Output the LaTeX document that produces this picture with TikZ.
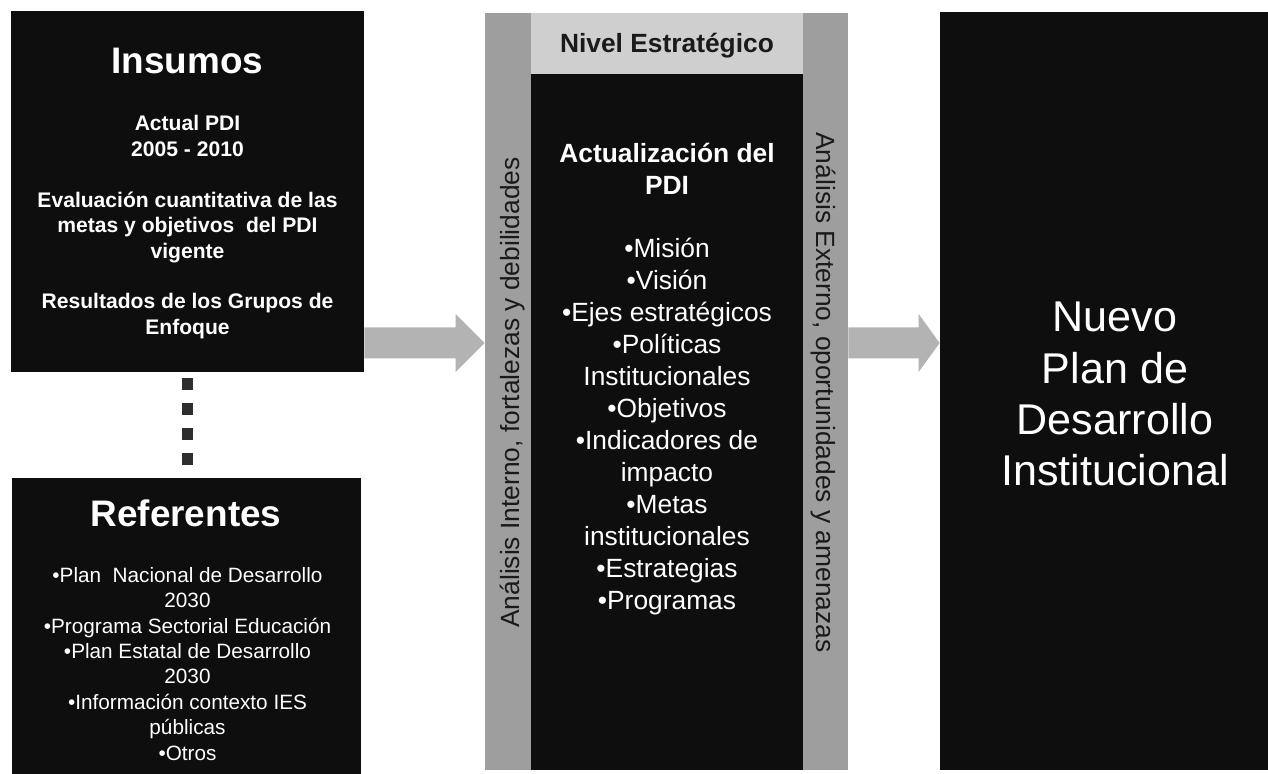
\documentclass[tikz,border=0pt]{standalone}
\usepackage{fontspec}
\setmainfont{Liberation Sans}
\usetikzlibrary{calc}
\definecolor{boxblack}{HTML}{0E0E0E}
\definecolor{stripgray}{HTML}{9E9E9E}
\definecolor{headgray}{HTML}{CFCFCF}
\definecolor{arrowgray}{HTML}{B3B3B3}
\definecolor{dotgray}{HTML}{2E2E2E}
\definecolor{sidedark}{HTML}{1A1A1A}
\tikzset{
  box/.style={draw=none, inner sep=0pt},
  blackbox/.style={box, fill=boxblack},
  blockarrow/.style={fill=arrowgray, to path={
    ($(\tikztostart)+(0,0.31)$) -- ($(\tikztotarget)+(-#1,0.31)$)
    -- ($(\tikztotarget)+(-#1,0.58)$) -- (\tikztotarget)
    -- ($(\tikztotarget)+(-#1,-0.58)$) -- ($(\tikztotarget)+(-#1,-0.31)$)
    -- ($(\tikztostart)+(0,-0.31)$) -- cycle}},
  dotline/.style={draw=dotgray, line width=0.22cm, dash pattern=on 0.24cm off 0.26cm, dash phase=0.38cm},
  titletext/.style={text=white, anchor=base, inner sep=0pt, font=\fontsize{21}{25}\selectfont\bfseries},
  smalltext/.style={text=white, anchor=north, inner sep=0pt, align=center},
  midtext/.style={anchor=north, inner sep=0pt, align=center, text=white},
  sidetext/.style={text=sidedark, anchor=base, inner sep=0pt, font=\fontsize{15}{18}\selectfont}
}

\begin{document}
\begin{tikzpicture}
\useasboundingbox (0,0) rectangle (25.36,15.48);
% left column
\node[blackbox, minimum width=7.06cm, minimum height=7.22cm] (insumos) at (3.75,11.65) {};
\node[blackbox, minimum width=6.98cm, minimum height=5.92cm] (referentes) at (3.73,2.96) {};
\node[titletext] (insumostitle) at (3.75,14.0) {Insumos};
\node[smalltext, font=\fontsize{12}{14.5}\selectfont\bfseries] (insumostext) at (3.75,13.18)
  {Actual PDI\\2005 - 2010\\[14.5pt]Evaluación cuantitativa de las\\metas y objetivos \ del PDI\\vigente\\[14.5pt]Resultados de los Grupos de\\Enfoque};
\node[titletext] (referentestitle) at (3.72,4.94) {Referentes};
\node[smalltext, font=\fontsize{11.8}{14.45}\selectfont] (referentestext) at (3.75,4.14)
  {•Plan \ Nacional de Desarrollo\\2030\\•Programa Sectorial Educación\\•Plan Estatal de Desarrollo\\2030\\•Información contexto IES\\públicas\\•Otros};
\draw[dotline] (insumos.south) -- (insumos.south |- referentes.north);
% middle column
\node[box, fill=stripgray, minimum width=7.26cm, minimum height=15.14cm] (panel) at (13.33,7.65) {};
\node[box, fill=headgray, minimum width=5.44cm, minimum height=1.22cm] (nivel) at (13.34,14.61) {};
\node[blackbox, minimum width=5.44cm, minimum height=13.92cm] (pdi) at (13.34,7.04) {};
\node[anchor=base, inner sep=0pt, text=sidedark, font=\fontsize{15}{18}\selectfont\bfseries] (niveltext) at (13.34,14.42) {Nivel Estratégico};
\node[midtext, font=\fontsize{15}{18}\selectfont\bfseries] (pditext) at (13.34,12.62) {Actualización del\\PDI};
\node[midtext, font=\fontsize{15}{18.2}\selectfont] (pdilist) at (13.34,10.73)
  {•Misión\\•Visión\\•Ejes estratégicos\\•Políticas\\Institucionales\\•Objetivos\\•Indicadores de\\impacto\\•Metas\\institucionales\\•Estrategias\\•Programas};
\node[sidetext, rotate=90] (interno) at (10.38,7.63) {Análisis Interno, fortalezas y debilidades};
\node[sidetext, rotate=-90] (externo) at (16.32,7.63) {Análisis Externo, oportunidades y amenazas};
% right column
\node[blackbox, minimum width=6.56cm, minimum height=15.16cm] (nuevo) at (22.08,7.66) {};
\node[midtext, font=\fontsize{24.5}{29.2}\selectfont] (nuevotext) at (22.3,9.44) {Nuevo\\Plan de\\Desarrollo\\Institucional};
% arrows
\coordinate (lvl) at (0,8.62);
\coordinate (a1s) at (insumos.east |- lvl);
\coordinate (a1e) at (panel.west |- lvl);
\coordinate (a2s) at (panel.east |- lvl);
\coordinate (a2e) at (nuevo.west |- lvl);
\path[blockarrow=0.58] (a1s) to (a1e);
\path[blockarrow=0.42] (a2s) to (a2e);
%\draw[help lines] (0,0) grid (25,15);
\end{tikzpicture}
\end{document}
